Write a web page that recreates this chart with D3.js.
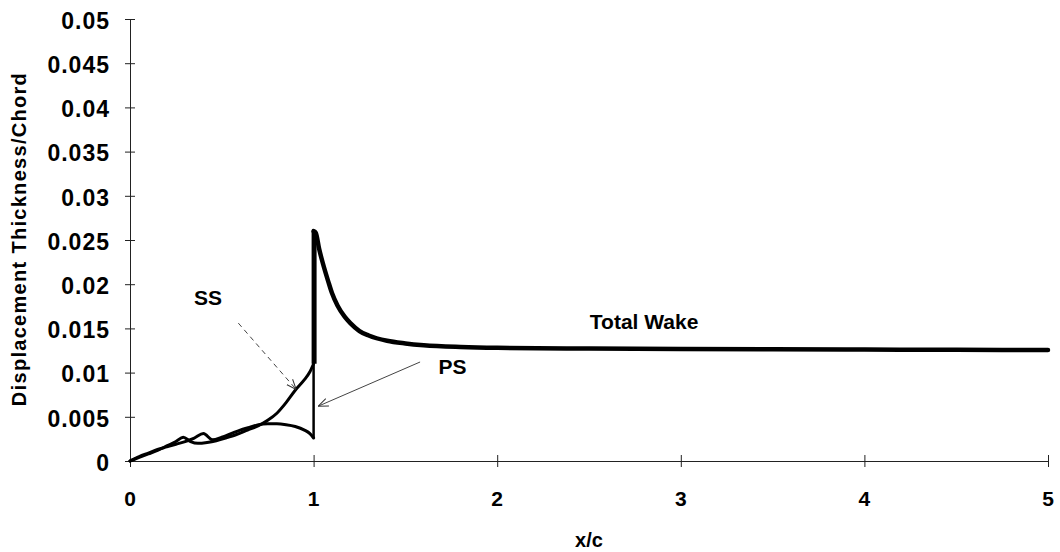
<!DOCTYPE html>
<html>
<head>
<meta charset="utf-8">
<script src="https://cdn.jsdelivr.net/npm/d3@7"></script>
<style>
  body { margin: 0; background: #fff; }
  svg text { font-family: "Liberation Sans", Arial, sans-serif; font-weight: bold; fill: #000; }
</style>
</head>
<body>
<div id="chart"></div>
<script>
// suction side
const ssX = [0, 0.05, 0.1, 0.15, 0.2, 0.25, 0.29, 0.33, 0.37, 0.42, 0.47, 0.52, 0.58, 0.64, 0.70, 0.75, 0.80, 0.85, 0.90, 0.95, 0.98, 1.0];
const ssY = [0, 0.0004, 0.0008, 0.0012, 0.0017, 0.0022, 0.0027, 0.0022, 0.0020, 0.0021, 0.0023, 0.0026, 0.0030, 0.0035, 0.0040, 0.0046, 0.0054, 0.0066, 0.0080, 0.0092, 0.0101, 0.0110];
// pressure side
const psX = [0, 0.05, 0.1, 0.15, 0.2, 0.25, 0.3, 0.35, 0.40, 0.45, 0.5, 0.55, 0.6, 0.65, 0.7, 0.75, 0.8, 0.85, 0.9, 0.95, 0.98, 1.0];
const psY = [0, 0.0005, 0.0009, 0.0013, 0.0016, 0.0019, 0.0022, 0.0026, 0.0031, 0.0024, 0.0027, 0.0031, 0.0035, 0.0038, 0.0041, 0.0042, 0.0042, 0.0041, 0.0039, 0.0035, 0.0031, 0.0026];
// total wake
const wakeX = [1.0, 1.012, 1.03, 1.05, 1.08, 1.1, 1.13, 1.17, 1.2, 1.25, 1.3, 1.4, 1.5, 1.6, 1.8, 2.0, 2.5, 3, 3.5, 4, 4.5, 5];
const wakeY = [0.0260, 0.0258, 0.0240, 0.0224, 0.0203, 0.0190, 0.0176, 0.0163, 0.0156, 0.0147, 0.0142, 0.0136, 0.0133, 0.0131, 0.0129, 0.0128, 0.01272, 0.01267, 0.01263, 0.0126, 0.01258, 0.01256];

const xTicks = [0, 1, 2, 3, 4, 5];
const yTicks = [0, 0.005, 0.01, 0.015, 0.02, 0.025, 0.03, 0.035, 0.04, 0.045, 0.05];
const yTickLabels = ["0", "0.005", "0.01", "0.015", "0.02", "0.025", "0.03", "0.035", "0.04", "0.045", "0.05"];

// annotation labels and arrows, in data units
const labels = [
    { text: "SS", x: 0.425, y: 0.0185, anchor: "middle" },
    { text: "PS", x: 1.68, y: 0.0107, anchor: "start" },
    { text: "Total Wake", x: 2.80, y: 0.0158, anchor: "middle" }
];
const arrows = [
    { x1: 0.59, y1: 0.0156, x2: 0.905, y2: 0.0081, dash: "5,4" },
    { x1: 1.58, y1: 0.0112, x2: 1.025, y2: 0.0062, dash: null }
];

const width = 1060, height = 552;
const margin = { top: 19, right: 12, bottom: 91, left: 130 };

const svg = d3.select("#chart")
    .append("svg")
    .attr("width", width)
    .attr("height", height);

const x = d3.scaleLinear().domain([0, 5]).range([margin.left, width - margin.right]);
const y = d3.scaleLinear().domain([0, 0.05]).range([height - margin.bottom, margin.top]);

// axes
svg.append("g")
    .attr("transform", `translate(${margin.left},0)`)
    .call(d3.axisLeft(y).tickValues(yTicks).tickSize(5).tickPadding(15)
        .tickFormat((d, i) => yTickLabels[i]))
    .call(g => g.select(".domain").attr("stroke", "#222"))
    .call(g => g.selectAll(".tick line").attr("x1", 5).attr("stroke", "#222"))
    .call(g => g.selectAll(".tick text")
        .attr("font-size", 23).attr("letter-spacing", 1).attr("dy", "0.4em"));

svg.append("g")
    .attr("transform", `translate(0,${y(0)})`)
    .call(d3.axisBottom(x).tickValues(xTicks).tickSize(6).tickPadding(24).tickFormat(d3.format("d")))
    .call(g => g.select(".domain").attr("stroke", "#222"))
    .call(g => g.selectAll(".tick line").attr("y1", -6).attr("stroke", "#222"))
    .call(g => g.selectAll(".tick text").attr("font-size", 21).attr("letter-spacing", 1));

svg.selectAll("path.domain").attr("stroke-width", 1);

// axis titles
svg.append("text")
    .attr("x", (margin.left + width - margin.right) / 2 + 0)
    .attr("y", 547)
    .attr("text-anchor", "middle")
    .attr("font-size", 20)
    .text("x/c");

svg.append("text")
    .attr("transform", `translate(26,${239}) rotate(-90)`)
    .attr("text-anchor", "middle")
    .attr("font-size", 20)
    .attr("letter-spacing", 1.3)
    .text("Displacement Thickness/Chord");

// curves
const line = d3.line()
    .x(d => x(d[0]))
    .y(d => y(d[1]))
    .curve(d3.curveMonotoneX);

const zip = (xs, ys) => xs.map((v, i) => [v, ys[i]]);

const ss = zip(ssX, ssY);
const ps = zip(psX, psY);
const wake = zip(wakeX, wakeY);

svg.append("path")
    .datum(ss)
    .attr("d", line)
    .attr("fill", "none")
    .attr("stroke", "#000")
    .attr("stroke-width", 3)
    .attr("stroke-linejoin", "round")
    .attr("stroke-linecap", "round");

svg.append("path")
    .datum(ps)
    .attr("d", line)
    .attr("fill", "none")
    .attr("stroke", "#000")
    .attr("stroke-width", 3)
    .attr("stroke-linejoin", "round")
    .attr("stroke-linecap", "round");

// trailing edge jumps up to the wake start
const peak = wake[0];
svg.append("line")
    .attr("x1", x(1)).attr("y1", y(ps[ps.length - 1][1]))
    .attr("x2", x(1)).attr("y2", y(peak[1]))
    .attr("stroke", "#000").attr("stroke-width", 2.5);
svg.append("line")
    .attr("x1", x(1) + 0.5).attr("y1", y(ss[ss.length - 1][1]))
    .attr("x2", x(1) + 0.5).attr("y2", y(peak[1]))
    .attr("stroke", "#000").attr("stroke-width", 5);

svg.append("path")
    .datum(wake)
    .attr("d", line)
    .attr("fill", "none")
    .attr("stroke", "#000")
    .attr("stroke-width", 4.5)
    .attr("stroke-linejoin", "round")
    .attr("stroke-linecap", "round");

// arrows
svg.append("defs").append("marker")
    .attr("id", "head")
    .attr("viewBox", "0 0 10 10")
    .attr("refX", 10).attr("refY", 5)
    .attr("markerWidth", 10).attr("markerHeight", 10)
    .attr("markerUnits", "userSpaceOnUse")
    .attr("orient", "auto")
    .append("path")
    .attr("d", "M0,1 L10,5 L0,9")
    .attr("fill", "none")
    .attr("stroke", "#333")
    .attr("stroke-width", 1);

svg.selectAll("line.arrow")
    .data(arrows)
    .enter()
    .append("line")
    .attr("class", "arrow")
    .attr("x1", d => x(d.x1)).attr("y1", d => y(d.y1))
    .attr("x2", d => x(d.x2)).attr("y2", d => y(d.y2))
    .attr("stroke", "#444")
    .attr("stroke-width", 1)
    .attr("stroke-dasharray", d => d.dash)
    .attr("marker-end", "url(#head)");

// labels
svg.selectAll("text.note")
    .data(labels)
    .enter()
    .append("text")
    .attr("class", "note")
    .attr("x", d => x(d.x))
    .attr("y", d => y(d.y))
    .attr("dy", "0.35em")
    .attr("text-anchor", d => d.anchor)
    .attr("font-size", 21)
    .text(d => d.text);
</script>
</body>
</html>
